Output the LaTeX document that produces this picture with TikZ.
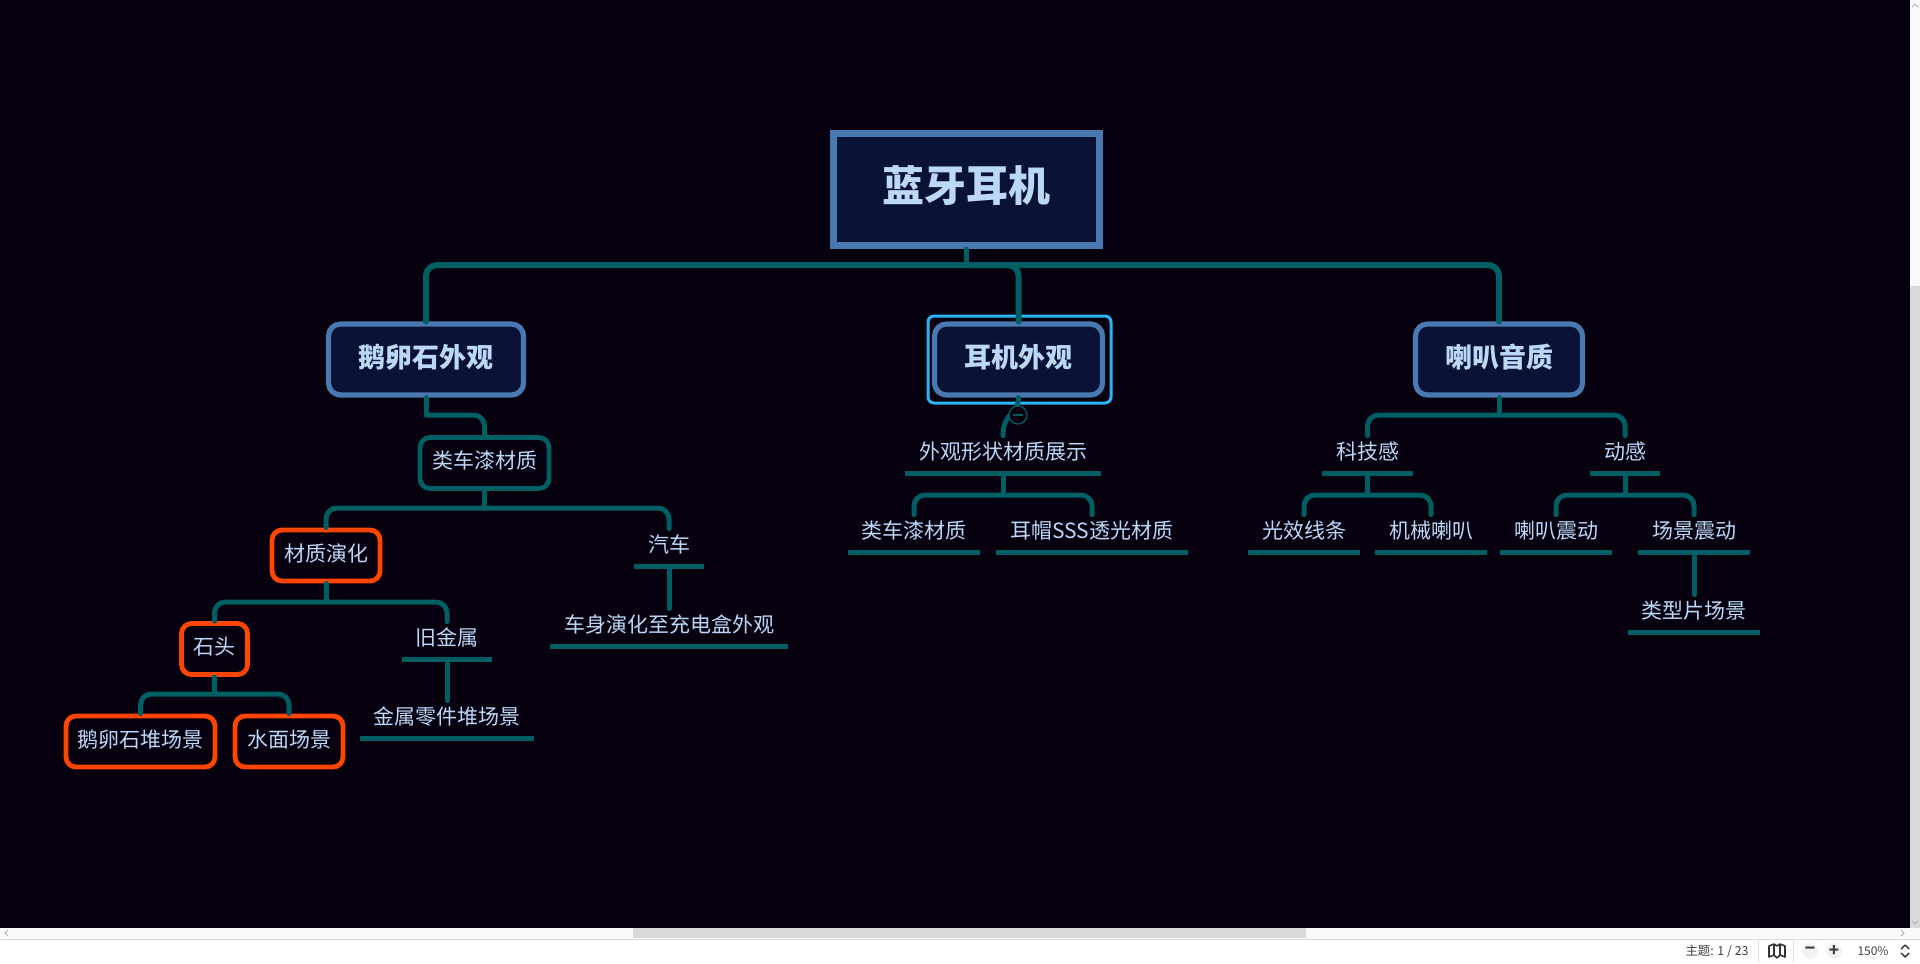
\documentclass[tikz,border=0pt]{standalone}
\usepackage{fontspec}
\setmainfont{Noto Sans CJK SC}
\definecolor{canvasbg}{HTML}{07000E}
\definecolor{linkteal}{HTML}{005F63}
\definecolor{boxfill}{HTML}{0A1236}
\definecolor{boxedge}{HTML}{4A78B0}
\definecolor{labelblue}{HTML}{BBD8F8}
\definecolor{selectblue}{HTML}{2CB5F5}
\definecolor{markorange}{HTML}{FF4500}
\tikzset{
  link/.style={draw=linkteal, line width=2.5pt, line cap=round},
  tee/.style={draw=linkteal, line width=2.1pt},
  barlink/.style={link, rounded corners=5.5pt},
  trunk/.style={barlink, line width=3pt},
  topic/.style={text=labelblue, font=\fontsize{10.5}{12}\selectfont, inner sep=0pt, align=center},
  leaf/.style={topic, minimum height=18.5pt, text height=8pt, text depth=3.4pt},
  framed/.style={topic, rounded corners=5pt, line width=2.4pt, minimum height=25.5pt, text height=8pt, text depth=2.2pt},
  tealbox/.style={framed, draw=linkteal},
  hotbox/.style={framed, draw=markorange},
  mainbox/.style={topic, draw=boxedge, fill=boxfill, line width=2.6pt, rounded corners=6pt, minimum height=35.5pt, font=\fontsize{13.5}{15}\bfseries, text height=10pt, text depth=2.2pt},
  chevron/.style={draw=gray!60, line width=0.5pt},
  statustext/.style={font=\fontsize{6.2}{8}\selectfont, text=black!75, inner sep=0pt},
  roundbutton/.style={circle, fill=gray!10, minimum size=8pt, inner sep=0pt, font=\fontsize{8.5}{9}\bfseries, text=black!75},
}
\begin{document}
\begin{tikzpicture}[x=0.5pt, y=-0.5pt]
      \useasboundingbox (0,0) rectangle (1920,963);
      % page and canvas
      \fill[white] (0,0) rectangle (1920,963);
      \fill[canvasbg] (0,0) rectangle (1910,928);

      % root
      \node[topic, draw=boxedge, fill=boxfill, line width=3.5pt, minimum width=133pt, minimum height=56pt, font=\fontsize{21}{24}\bfseries, text height=16pt, text depth=4.5pt] (root) at (966,189.5) {蓝牙耳机};

      % first level
      \node[mainbox, minimum width=97.5pt] (pebble) at (426,359.5) {鹅卵石外观};
      \node[mainbox, minimum width=84pt] (earphone) at (1018.5,359.5) {耳机外观};
      \node[mainbox, minimum width=83.5pt] (speaker) at (1499,359.5) {喇叭音质};
      \draw[selectblue, line width=1.5pt, rounded corners=3pt] (928,316) rectangle (1111,403);

      % left branch
      \node[tealbox, minimum width=64.5pt] (paint) at (484.5,463) {类车漆材质};
      \node[hotbox, minimum width=54pt] (evolve) at (326,555.5) {材质演化};
      \node[leaf, minimum width=34.5pt] (car) at (669,547.5) {汽车};
      \node[leaf, minimum width=118.5pt] (carbody) at (669,627.5) {车身演化至充电盒外观};
      \node[hotbox, minimum width=33pt] (stone) at (214.5,649) {石头};
      \node[leaf, minimum width=45pt] (metal) at (447,640.5) {旧金属};
      \node[hotbox, minimum width=74.5pt] (heap) at (140.5,741.5) {鹅卵石堆场景};
      \node[hotbox, minimum width=54pt] (water) at (289,741.5) {水面场景};
      \node[leaf, minimum width=86.5pt] (parts) at (447,719.5) {金属零件堆场景};

      % middle branch
      \node[leaf, minimum width=97.5pt] (shape) at (1003,454.5) {外观形状材质展示};
      \node[leaf, minimum width=66pt] (paintb) at (914,533.5) {类车漆材质};
      \node[leaf, minimum width=96pt] (cap) at (1092,533.5) {耳帽SSS透光材质};

      % right branch
      \node[leaf, minimum width=45pt] (tech) at (1367.5,454.5) {科技感};
      \node[leaf, minimum width=34.5pt] (motion) at (1625,454.5) {动感};
      \node[leaf, minimum width=55.5pt] (lightline) at (1304,533.5) {光效线条};
      \node[leaf, minimum width=55.5pt] (horn) at (1431,533.5) {机械喇叭};
      \node[leaf, minimum width=55.5pt] (hornshake) at (1556,533.5) {喇叭震动};
      \node[leaf, minimum width=55.5pt] (sceneshake) at (1694,533.5) {场景震动};
      \node[leaf, minimum width=66pt] (film) at (1694,613.5) {类型片场景};

      % junctions on the bars
      \coordinate (rootbar) at (966,265);
      \coordinate (pebblebar) at (426,415);
      \coordinate (paintbar) at (484.5,508);
      \coordinate (evolvebar) at (326,602);
      \coordinate (stonebar) at (214.5,694);
      \coordinate (shapebar) at (1003,495);
      \coordinate (speakerbar) at (1499,415);
      \coordinate (techbar) at (1367.5,495);
      \coordinate (motionbar) at (1625,495);

      % bars with their rounded ends
      \draw[trunk] (pebble.north) |- (rootbar) -| (speaker.north);
      \draw[trunk] (rootbar) -| (earphone.north);
      \draw[barlink] (pebblebar) -| (paint.north);
      \draw[barlink] (evolve.north) |- (paintbar) -| (car.north);
      \draw[barlink] (stone.north) |- (evolvebar) -| (metal.north);
      \draw[barlink] (heap.north) |- (stonebar) -| (water.north);
      \draw[barlink] (paintb.north) |- (shapebar) -| (cap.north);
      \draw[barlink] (tech.north) |- (speakerbar) -| (motion.north);
      \draw[barlink] (lightline.north) |- (techbar) -| (horn.north);
      \draw[barlink] (hornshake.north) |- (motionbar) -| (sceneshake.north);

      % stems
      \draw[link] (root.south) -- (rootbar);
      \draw[link] (pebble.south) -- (pebblebar);
      \draw[link] (paint.south) -- (paintbar);
      \draw[link] (evolve.south) -- (evolvebar);
      \draw[link] (stone.south) -- (stonebar);
      \draw[link] (speaker.south) -- (speakerbar);
      \draw[link] (shape.south) -- (shapebar);
      \draw[link] (tech.south) -- (techbar);
      \draw[link] (motion.south) -- (motionbar);
      \draw[link] (car.south) -- (carbody.north);
      \draw[link] (metal.south) -- (parts.north);
      \draw[link] (sceneshake.south) -- (film.north);
      \draw[link] (earphone.south) .. controls (1018,416) and (1003,412) .. (shape.north);

      % lines under the plain topics
      \foreach \leafname in {car,carbody,metal,parts,shape,paintb,cap,tech,motion,lightline,horn,hornshake,sceneshake,film}
        \draw[tee] (\leafname.south west) -- (\leafname.south east);

      % collapse button
      \node[circle, draw=linkteal, fill=canvasbg, line width=0.6pt, minimum size=9pt, inner sep=0pt] (collapse) at (1018,415) {};
      \draw[linkteal, line width=0.6pt] ([xshift=-2.5pt]collapse.center) -- ([xshift=2.5pt]collapse.center);

      % scroll bars
      \fill[gray!5] (0,928) rectangle (1920,938);
      \fill[gray!5] (1910,0) rectangle (1920,938);
      \fill[gray!30] (633,928) rectangle (1306,938);
      \fill[gray!30] (1910,286) rectangle (1920,928);
      \draw[gray!30, line width=0.5pt] (0,939) -- (1920,939);
      \draw[chevron] (1912,7) -- (1915,4) -- (1918,7);
      \draw[chevron] (1912,921) -- (1915,924) -- (1918,921);
      \draw[chevron] (8,930) -- (5,933) -- (8,936);
      \draw[chevron] (1901,930) -- (1904,933) -- (1901,936);

      % status bar
      \node[statustext] (count) at (1717,951) {主题: 1 / 23};
      \draw[gray!25, line width=0.5pt] (1758,939) -- (1758,963) (1793,939) -- (1793,963);
      \draw[black!80, line width=0.8pt, line join=round] (1769,946) -- (1774,944) -- (1777,946) -- (1780,944) -- (1785,946) -- (1785,957) -- (1780,955) -- (1777,958) -- (1774,955) -- (1769,957) -- cycle (1774,944) -- (1774,955) (1780,944) -- (1780,955);
      \node[roundbutton] (zoomout) at (1810,951) {−};
      \node[roundbutton] (zoomin) at (1834,951) {+};
      \node[statustext, font=\fontsize{6}{8}\selectfont] (percent) at (1873,951) {150\%};
      \draw[black!80, line width=0.7pt, line join=round] (1901,949) -- (1905,945) -- (1909,949) (1901,953) -- (1905,957) -- (1909,953);
\end{tikzpicture}
\end{document}
